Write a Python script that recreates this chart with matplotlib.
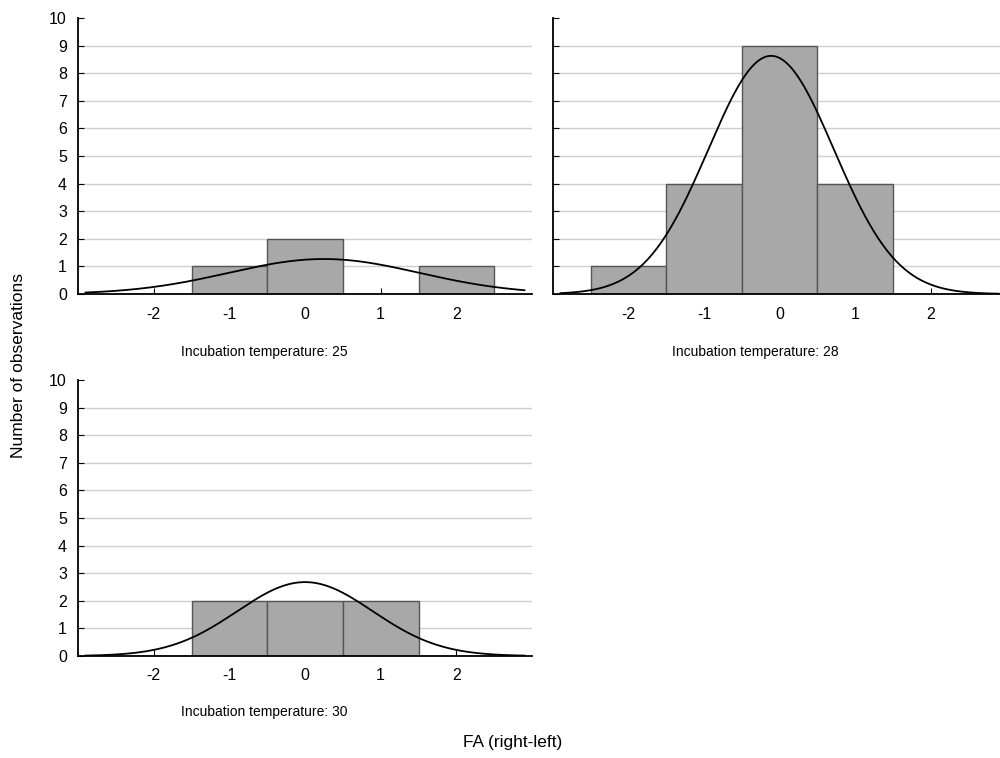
import numpy as np
import matplotlib
matplotlib.use("Agg")
import matplotlib.pyplot as plt

plt.rcParams["font.family"] = ["Liberation Sans", "DejaVu Sans"]
plt.rcParams["axes.unicode_minus"] = False

# Histogram data: bin centres (width 1) and counts per incubation temperature
bin_centers = [-2, -1, 0, 1, 2]
counts_25 = [0, 1, 2, 0, 1]
counts_28 = [1, 4, 9, 4, 0]
counts_30 = [0, 2, 2, 2, 0]
titles = ["Incubation temperature: 25", "Incubation temperature: 28",
          "Incubation temperature: 30"]
y_ticks = list(range(0, 11))
x_ticks = [-2, -1, 0, 1, 2]

BAR_COLOR = "#a8a8a8"
EDGE_COLOR = "#555555"
GRID_COLOR = "#cfcfcf"

fig = plt.figure(figsize=(10, 7.58), dpi=100)

# axes positions (figure fractions)
positions = [
    [0.078, 0.6121, 0.454, 0.3642],
    [0.553, 0.6121, 0.453, 0.3642],
    [0.078, 0.1346, 0.454, 0.3642],
]
all_counts = [counts_25, counts_28, counts_30]
show_ylabels = [True, False, True]


def fitted_normal(centers, counts):
    c = np.array(centers, dtype=float)
    n = np.array(counts, dtype=float)
    total = n.sum()
    mean = (c * n).sum() / total
    sd = np.sqrt(((c - mean) ** 2 * n).sum() / (total - 1))
    xs = np.linspace(-2.9, 2.9, 300)
    ys = total / (sd * np.sqrt(2 * np.pi)) * np.exp(-0.5 * ((xs - mean) / sd) ** 2)
    return xs, ys


for pos, counts, show_y in zip(positions, all_counts, show_ylabels):
    ax = fig.add_axes(pos)
    ax.set_xlim(-3, 3)
    ax.set_ylim(0, 10)

    ax.hlines(y_ticks[1:-1], -3, 3, color=GRID_COLOR, lw=1, zorder=0)

    ax.bar(bin_centers, counts, width=1.0, color=BAR_COLOR,
           edgecolor=EDGE_COLOR, linewidth=1, zorder=2)

    xs, ys = fitted_normal(bin_centers, counts)
    ax.plot(xs, ys, color="black", lw=1.3, zorder=3)

    for side in ["top", "right"]:
        ax.spines[side].set_visible(False)
    for side in ["left", "bottom"]:
        ax.spines[side].set_linewidth(1.3)
        ax.spines[side].set_zorder(4)

    ax.set_xticks(x_ticks)
    ax.set_yticks(y_ticks)
    ax.tick_params(axis="x", direction="in", length=4, pad=9, labelsize=11.5)
    ax.tick_params(axis="y", direction="in", length=4, pad=8, labelsize=11.5)
    if not show_y:
        ax.set_yticklabels([])

fig.text(0.264, 1 - 352 / 758, titles[0], ha="center", va="center", fontsize=10)
fig.text(0.755, 1 - 352 / 758, titles[1], ha="center", va="center", fontsize=10)
fig.text(0.264, 1 - 712 / 758, titles[2], ha="center", va="center", fontsize=10)

fig.text(0.513, 1 - 743 / 758, "FA (right-left)", ha="center", va="center",
         fontsize=12.5)
fig.text(0.019, 1 - 365 / 758, "Number of observations", ha="center",
         va="center", rotation=90, fontsize=12.5)

fig.savefig("out.png", dpi=100)
